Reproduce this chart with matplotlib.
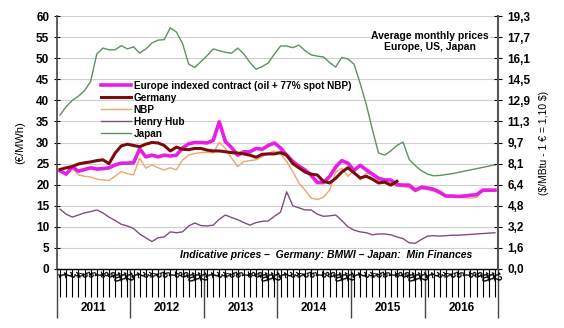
import numpy as np
import matplotlib.pyplot as plt

plt.rcParams['font.family'] = ['Liberation Sans', 'DejaVu Sans']
plt.rcParams['font.weight'] = 'bold'

years = ['2011', '2012', '2013', '2014', '2015', '2016']
month_labels = [str(m) for m in range(1, 13)] * len(years)

europe = [23.3, 22.5, 24.2, 23.2, 23.6, 24.0, 23.7, 23.8, 24.0, 24.7, 25.1, 25.1,
          25.2, 28.5, 26.6, 27.0, 26.6, 27.0, 26.8, 27.0, 28.7, 29.7, 30.0, 30.0,
          29.9, 30.5, 34.9, 30.2, 28.8, 27.0, 27.8, 27.8, 28.6, 28.4, 29.3, 29.9,
          28.7, 27.0, 25.5, 24.4, 23.5, 22.2, 20.5, 20.5, 21.9, 24.2, 25.7, 25.1,
          23.4, 24.6, 23.5, 22.5, 21.5, 21.1, 21.1, 20.0, 19.9, 19.9, 18.7, 19.4,
          19.2, 18.9, 18.2, 17.3, 17.3, 17.2, 17.3, 17.5, 17.6, 18.7, 18.7, 18.7]

germany = [23.6, 24.0, 24.3, 24.9, 25.2, 25.4, 25.7, 25.9, 25.0, 27.5, 29.2, 29.6,
           29.3, 29.0, 29.6, 30.0, 29.9, 29.3, 28.0, 28.9, 28.4, 28.3, 28.6, 28.6,
           28.2, 28.0, 28.0, 27.8, 27.6, 27.5, 27.3, 27.0, 26.5, 27.2, 27.3, 27.3,
           27.6, 27.0, 25.0, 24.0, 23.0, 22.5, 22.3, 20.8, 20.4, 21.5, 23.0, 24.0,
           22.8, 21.6, 22.0, 21.3, 20.4, 20.6, 19.9, 20.8] + [np.nan] * 16

nbp = [23.3, 22.3, 24.0, 22.3, 22.0, 21.8, 21.3, 21.1, 21.0, 22.0, 23.1, 22.6,
       22.3, 26.3, 23.9, 24.7, 24.0, 23.5, 24.0, 23.5, 25.9, 27.0, 27.4, 27.6,
       27.7, 27.5, 30.0, 28.6, 26.3, 24.3, 25.5, 25.7, 25.9, 26.6, 27.5, 28.0,
       27.3, 25.5, 23.1, 20.4, 18.7, 16.8, 16.5, 17.0, 18.7, 23.0, 23.9, 22.0,
       23.3, 21.1, 22.8, 22.3, 21.0, 20.5, 20.5, 19.6, 19.5, 19.3, 18.3, 19.0,
       18.8, 18.5, 17.8, 17.1, 17.1, 17.0, 16.9, 16.8, 17.0, 18.5, 18.6, 18.6]

henry_hub = [14.2, 13.0, 12.3, 12.8, 13.3, 13.6, 14.0, 13.3, 12.3, 11.5, 10.6, 10.2,
             9.6, 8.3, 7.4, 6.5, 7.4, 7.6, 8.8, 8.6, 8.8, 10.2, 10.9, 10.3,
             10.2, 10.4, 11.8, 12.8, 12.2, 11.7, 11.0, 10.4, 11.0, 11.3, 11.4, 12.5,
             13.5, 18.3, 15.0, 14.5, 14.0, 14.0, 13.0, 12.5, 12.6, 12.8, 11.5, 10.0,
             9.2, 8.8, 8.6, 8.1, 8.3, 8.3, 8.1, 7.6, 7.2, 6.2, 6.1, 7.0,
             7.8, 7.9, 7.8, 7.9, 8.0, 8.0, 8.1, 8.2, 8.3, 8.4, 8.5, 8.6]

japan = [36.5, 38.5, 40.0, 41.0, 42.3, 44.5, 51.0, 52.4, 52.0, 52.0, 53.0, 52.2,
         52.7, 51.2, 52.2, 53.6, 54.3, 54.4, 57.2, 56.2, 53.5, 48.6, 47.8, 49.2,
         50.6, 52.2, 51.8, 51.4, 51.2, 52.4, 51.0, 49.0, 47.4, 48.0, 48.9, 51.0,
         52.9, 52.9, 52.5, 53.1, 51.8, 50.8, 50.5, 50.3, 49.0, 47.9, 50.2, 49.8,
         48.6, 44.0, 39.0, 33.0, 27.5, 27.0, 28.0, 29.3, 30.1, 26.0, 24.5, 23.3,
         22.5, 22.1, 22.2, 22.4, 22.6, 22.9, 23.2, 23.5, 23.8, 24.1, 24.4, 24.7]

left_ticks = list(range(0, 61, 5))
right_labels = ['0,0', '1,6', '3,2', '4,8', '6,4', '8,1', '9,7', '11,3',
                '12,9', '14,5', '16,1', '17,7', '19,3']

x = np.arange(len(month_labels))

fig = plt.figure(figsize=(5.64, 3.28), dpi=100)
ax = fig.add_axes([0.101, 0.180, 0.782, 0.771])

for v in left_ticks[1:]:
    ax.axhline(v, color='#cfcfcf', lw=0.8, zorder=0)

ax.plot(x, japan, color='#5e9160', lw=1.0, label='Japan', zorder=3)
ax.plot(x, henry_hub, color='#7d4f7f', lw=1.0, label='Henry Hub', zorder=3)
ax.plot(x, nbp, color='#eda56f', lw=1.0, label='NBP', zorder=3)
ax.plot(x, europe, color='#e61ee6', lw=2.6, label='Europe indexed contract (oil + 77% spot NBP)', zorder=4)
ax.plot(x, germany, color='#7a0c0c', lw=2.2, label='Germany', zorder=5)

ax.set_xlim(-0.5, len(x) - 0.5)
ax.set_ylim(0, 60)
ax.set_yticks(left_ticks)
ax.tick_params(axis='y', direction='inout', length=5, labelsize=8.5, pad=3)
for s in ['top', 'right']:
    ax.spines[s].set_visible(False)
ax.spines['left'].set_color('#444444')
ax.spines['left'].set_linewidth(1.2)
ax.spines['bottom'].set_linewidth(1.0)

# month labels
ax.set_xticks(x)
ax.set_xticklabels(month_labels, rotation=-70, fontsize=7, ha='center', va='top')
ax.tick_params(axis='x', direction='out', length=20, width=0.8, pad=-19)

# year labels
sec = ax.secondary_xaxis('bottom')
sec.set_xticks([-0.5 + 12 * k for k in range(len(years) + 1)])
sec.set_xticklabels([''] * (len(years) + 1))
sec.tick_params(axis='x', length=35, width=1.0, color='#444444')
sec.set_xticks([5.5 + 12 * k for k in range(len(years))], minor=True)
sec.set_xticklabels(years, minor=True, fontsize=8.5)
sec.tick_params(axis='x', which='minor', length=0, pad=24)
sec.spines['bottom'].set_visible(False)

ax.set_ylabel('(€/MWh)', fontsize=8, labelpad=8)

ax2 = ax.twinx()
ax2.set_ylim(0, 60)
ax2.set_yticks(left_ticks)
ax2.set_yticklabels(right_labels)
ax2.tick_params(axis='y', direction='inout', length=6, labelsize=8.5, pad=4)
for s in ['top', 'left', 'bottom']:
    ax2.spines[s].set_visible(False)
ax2.spines['right'].set_color('#555555')
ax2.spines['right'].set_linewidth(1.5)
ax2.set_ylabel('(\\$/MBtu - 1 € = 1,10 \\$)', fontsize=7.5, labelpad=6)

handles, labels = ax.get_legend_handles_labels()
order = [3, 4, 2, 1, 0]
ax.legend([handles[i] for i in order], [labels[i] for i in order],
          loc='upper left', bbox_to_anchor=(0.09, 0.76), frameon=False,
          fontsize=7.2, handlelength=3.0, handletextpad=0.3,
          labelspacing=0.2, borderaxespad=0)

ax.text(0.846, 0.94, 'Average monthly prices\nEurope, US, Japan', transform=ax.transAxes,
        ha='center', va='top', fontsize=7.5, linespacing=1.1,
        bbox=dict(facecolor='white', edgecolor='none', pad=0.5))
ax.text(0.61, 0.035, 'Indicative prices –  Germany: BMWI – Japan:  Min Finances',
        transform=ax.transAxes, ha='center', va='bottom', fontsize=7.5, style='italic')

fig.savefig('out.png', dpi=100)
